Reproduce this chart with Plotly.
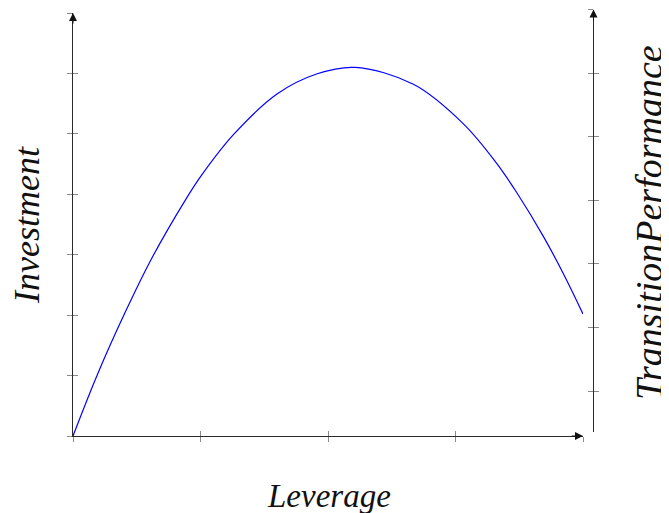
import plotly.graph_objects as go

# ---- data ----
leverage = [0.0, 0.19, 0.41, 0.62, 0.88, 1.01, 1.26, 1.60, 1.91, 2.21,
            2.67, 3.06, 3.32, 3.48, 3.69, 3.85, 4.00]
investment = [0.0, 1.01, 2.05, 2.95, 3.90, 4.32, 4.99, 5.66, 5.99, 6.10,
              5.82, 5.17, 4.52, 4.03, 3.30, 2.67, 2.02]
x_ticks = [0, 1, 2, 3, 4]
inv_ticks = [0, 1, 2, 3, 4, 5, 6, 7]
perf_ticks = [0, 1, 2, 3, 4, 5, 6]
x_range = [0, 4]
inv_range = [0, 7]
perf_range = [-0.644, 6]

# page body has an 8px default margin: the figure starts at (8, 8)
OFF = 8
W, H = 669 - OFF, 513 - OFF
ML, MR, MT, MB = 73 - OFF, 69, 0, 77
PW, PH = W - ML - MR, H - MT - MB

def fx(px):
    return (px - OFF - ML) / PW

def fy(py):
    return (H - MB - (py - OFF)) / PH

AX = "#2a2a2a"
TK = "#8a8a8a"
FONT = "Liberation Serif, Times New Roman, DejaVu Serif, serif"

fig = go.Figure()
fig.add_trace(go.Scatter(x=leverage, y=investment, mode="lines",
                         line=dict(color="#0000ff", width=1.2, shape="spline", smoothing=1.0),
                         hoverinfo="skip", showlegend=False))
# empty traces so every axis/subplot is created
fig.add_trace(go.Scatter(x=[], y=[], xaxis="x3", yaxis="y3", showlegend=False))
fig.add_trace(go.Scatter(x=[], y=[], xaxis="x2", yaxis="y2", showlegend=False))
fig.add_trace(go.Scatter(x=[], y=[], xaxis="x2", yaxis="y4", showlegend=False))

common = dict(showgrid=False, zeroline=False, showticklabels=False, fixedrange=True)
xdom = [0, fx(583)]
ydom = [fy(436), fy(13)]
y2dom = [fy(432), fy(9.5)]

fig.update_layout(
    width=W, height=H,
    margin=dict(l=ML, r=MR, t=MT, b=MB),
    paper_bgcolor="white", plot_bgcolor="white",
    showlegend=False,
    xaxis=dict(domain=xdom, range=x_range, anchor="y", tickvals=x_ticks,
               ticks="outside", ticklen=5, tickcolor=TK, tickwidth=1,
               showline=True, linecolor=AX, linewidth=1, **common),
    xaxis3=dict(overlaying="x", anchor="y", range=x_range, tickvals=x_ticks,
                ticks="inside", ticklen=5, tickcolor=TK, tickwidth=1,
                showline=False, **common),
    yaxis=dict(domain=ydom, range=inv_range, anchor="x", tickvals=inv_ticks,
               ticks="outside", ticklen=5, tickcolor=TK, tickwidth=1,
               showline=True, linecolor=AX, linewidth=1, **common),
    yaxis3=dict(overlaying="y", anchor="x", range=inv_range, tickvals=inv_ticks,
                ticks="inside", ticklen=5, tickcolor=TK, tickwidth=1,
                showline=False, **common),
    xaxis2=dict(domain=[fx(593.5), 1], anchor="y2", visible=False, range=[0, 1], **common),
    yaxis2=dict(domain=y2dom, range=perf_range, anchor="x2", side="left",
                tickvals=perf_ticks, ticks="outside", ticklen=5, tickcolor=TK, tickwidth=1,
                showline=True, linecolor=AX, linewidth=1, **common),
    yaxis4=dict(overlaying="y2", anchor="x2", side="left", range=perf_range,
                tickvals=perf_ticks, ticks="inside", ticklen=5, tickcolor=TK, tickwidth=1,
                showline=False, **common),
)

# axis arrowheads
arrow = dict(showarrow=True, text="", arrowhead=2, arrowsize=1.6, arrowwidth=1,
             arrowcolor="#111")
fig.add_annotation(x=x_range[1], y=0, ax=x_range[1] - 0.1, ay=0,
                   xref="x", yref="y", axref="x", ayref="y", **arrow)
fig.add_annotation(x=0, y=inv_range[1], ax=0, ay=inv_range[1] - 0.2,
                   xref="x", yref="y", axref="x", ayref="y", **arrow)
fig.add_annotation(x=0, y=perf_range[1], ax=0, ay=perf_range[1] - 0.2,
                   xref="x2", yref="y2", axref="x2", ayref="y2", **arrow)

# axis titles
fig.add_annotation(text="Leverage", xref="paper", yref="paper",
                   x=fx(329), y=fy(496), xanchor="center", yanchor="middle",
                   showarrow=False, font=dict(family=FONT, size=33, color="#111", style="italic"))
fig.add_annotation(text="Investment", xref="paper", yref="paper",
                   x=fx(27), y=fy(225), xanchor="center", yanchor="middle", textangle=-90,
                   showarrow=False, font=dict(family=FONT, size=36, color="#111", style="italic"))
fig.add_annotation(text="TransitionPerformance", xref="paper", yref="paper",
                   x=fx(649), y=fy(223), xanchor="center", yanchor="middle", textangle=-90,
                   showarrow=False, font=dict(family=FONT, size=38, color="#111", style="italic"))

fig.write_html("out.html")
